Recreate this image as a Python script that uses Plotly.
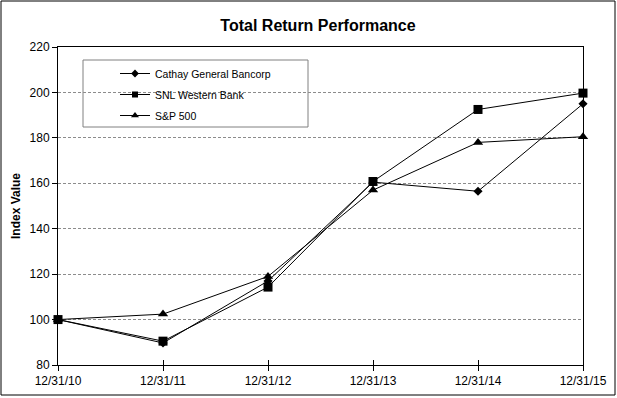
import plotly.graph_objects as go

dates = ["12/31/10", "12/31/11", "12/31/12", "12/31/13", "12/31/14", "12/31/15"]
cathay = [100, 89.7, 117, 160.5, 156.5, 195]
snl = [100, 90.5, 114.3, 160.8, 192.5, 199.7]
sp500 = [100, 102.4, 119, 157, 178, 180.5]
names = ["Cathay General Bancorp", "SNL Western Bank", "S&P 500"]
yticks = [80, 100, 120, 140, 160, 180, 200, 220]

W, H = 617, 398
ML, MR, MT, MB = 58, 34, 47, 33
pw, ph = W - ML - MR, H - MT - MB

xs = list(range(len(dates)))
FONT = "Liberation Sans, Arial, sans-serif"

fig = go.Figure()
series = [(cathay, "diamond", 7, 6), (snl, "square", 9, 6), (sp500, "triangle-up", 9, 7)]
for i, ((vals, sym, sz, lsz), nm) in enumerate(zip(series, names)):
    fig.add_trace(go.Scatter(
        x=xs, y=vals, name=nm, mode="lines+markers",
        line=dict(color="black", width=1),
        marker=dict(symbol=sym, size=sz, color="black"),
        cliponaxis=False, showlegend=False,
    ))
    # legend entry with the smaller legend marker
    fig.add_trace(go.Scatter(
        x=[None], y=[None], name=nm, mode="lines+markers",
        line=dict(color="black", width=1),
        marker=dict(symbol=sym, size=lsz, color="black"),
        legendgroup=str(i), hoverinfo="skip",
    ))

def px_x(p):
    return (p - ML) / pw

def px_y(p):
    return (H - MB - p) / ph

fig.update_layout(
    width=W, height=H,
    margin=dict(l=ML, r=MR, t=MT, b=MB, autoexpand=False),
    paper_bgcolor="white", plot_bgcolor="white",
    font=dict(family=FONT, size=12, color="black"),
    title=dict(text="<b>Total Return Performance</b>", x=318 / W, xanchor="center",
               y=1 - 25 / H, yanchor="middle", font=dict(size=16, family=FONT)),
    showlegend=True,
    legend=dict(x=px_x(115), y=px_y(59), xanchor="left", yanchor="top",
                bgcolor="rgba(0,0,0,0)", borderwidth=0,
                font=dict(size=10.5, family=FONT), tracegroupgap=2,
                traceorder="grouped", itemwidth=30),
    xaxis=dict(range=[0, 5], tickvals=xs, ticktext=dates, showgrid=False,
               zeroline=False, showline=True, linecolor="black", linewidth=1,
               ticks="outside", ticklen=5, tickcolor="black", mirror=True,
               tickfont=dict(size=12), automargin=False),
    xaxis2=dict(range=[0, 5], overlaying="x", tickvals=xs, showticklabels=False,
                ticks="inside", ticklen=5, tickcolor="black", showgrid=False,
                zeroline=False, showline=False, side="bottom", matches="x",
                automargin=False),
    yaxis=dict(range=[80, 220], tickvals=yticks, showgrid=True, gridcolor="#8c8c8c",
               griddash="3px,2px", gridwidth=1, zeroline=False, showline=True,
               linecolor="black", linewidth=1, mirror=True, ticks="outside",
               ticklen=5, tickcolor="black", tickfont=dict(size=12), automargin=False,
               title=dict(text="<b>Index Value</b>", font=dict(size=12), standoff=6)),
)
fig.add_trace(go.Scatter(x=[0], y=[None], xaxis="x2", showlegend=False, hoverinfo="skip"))

fig.add_shape(type="rect", xref="paper", yref="paper",
              x0=px_x(83), x1=px_x(308), y0=px_y(127), y1=px_y(60),
              line=dict(color="#808080", width=1), fillcolor="rgba(0,0,0,0)", layer="below")
fig.add_shape(type="rect", xref="paper", yref="paper",
              x0=px_x(1), x1=px_x(615), y0=px_y(395), y1=px_y(1),
              line=dict(color="black", width=1), fillcolor="rgba(0,0,0,0)")

fig.write_html("out.html", config={"displayModeBar": False},
               post_script="document.body.style.margin='0';document.body.style.overflow='hidden';")
